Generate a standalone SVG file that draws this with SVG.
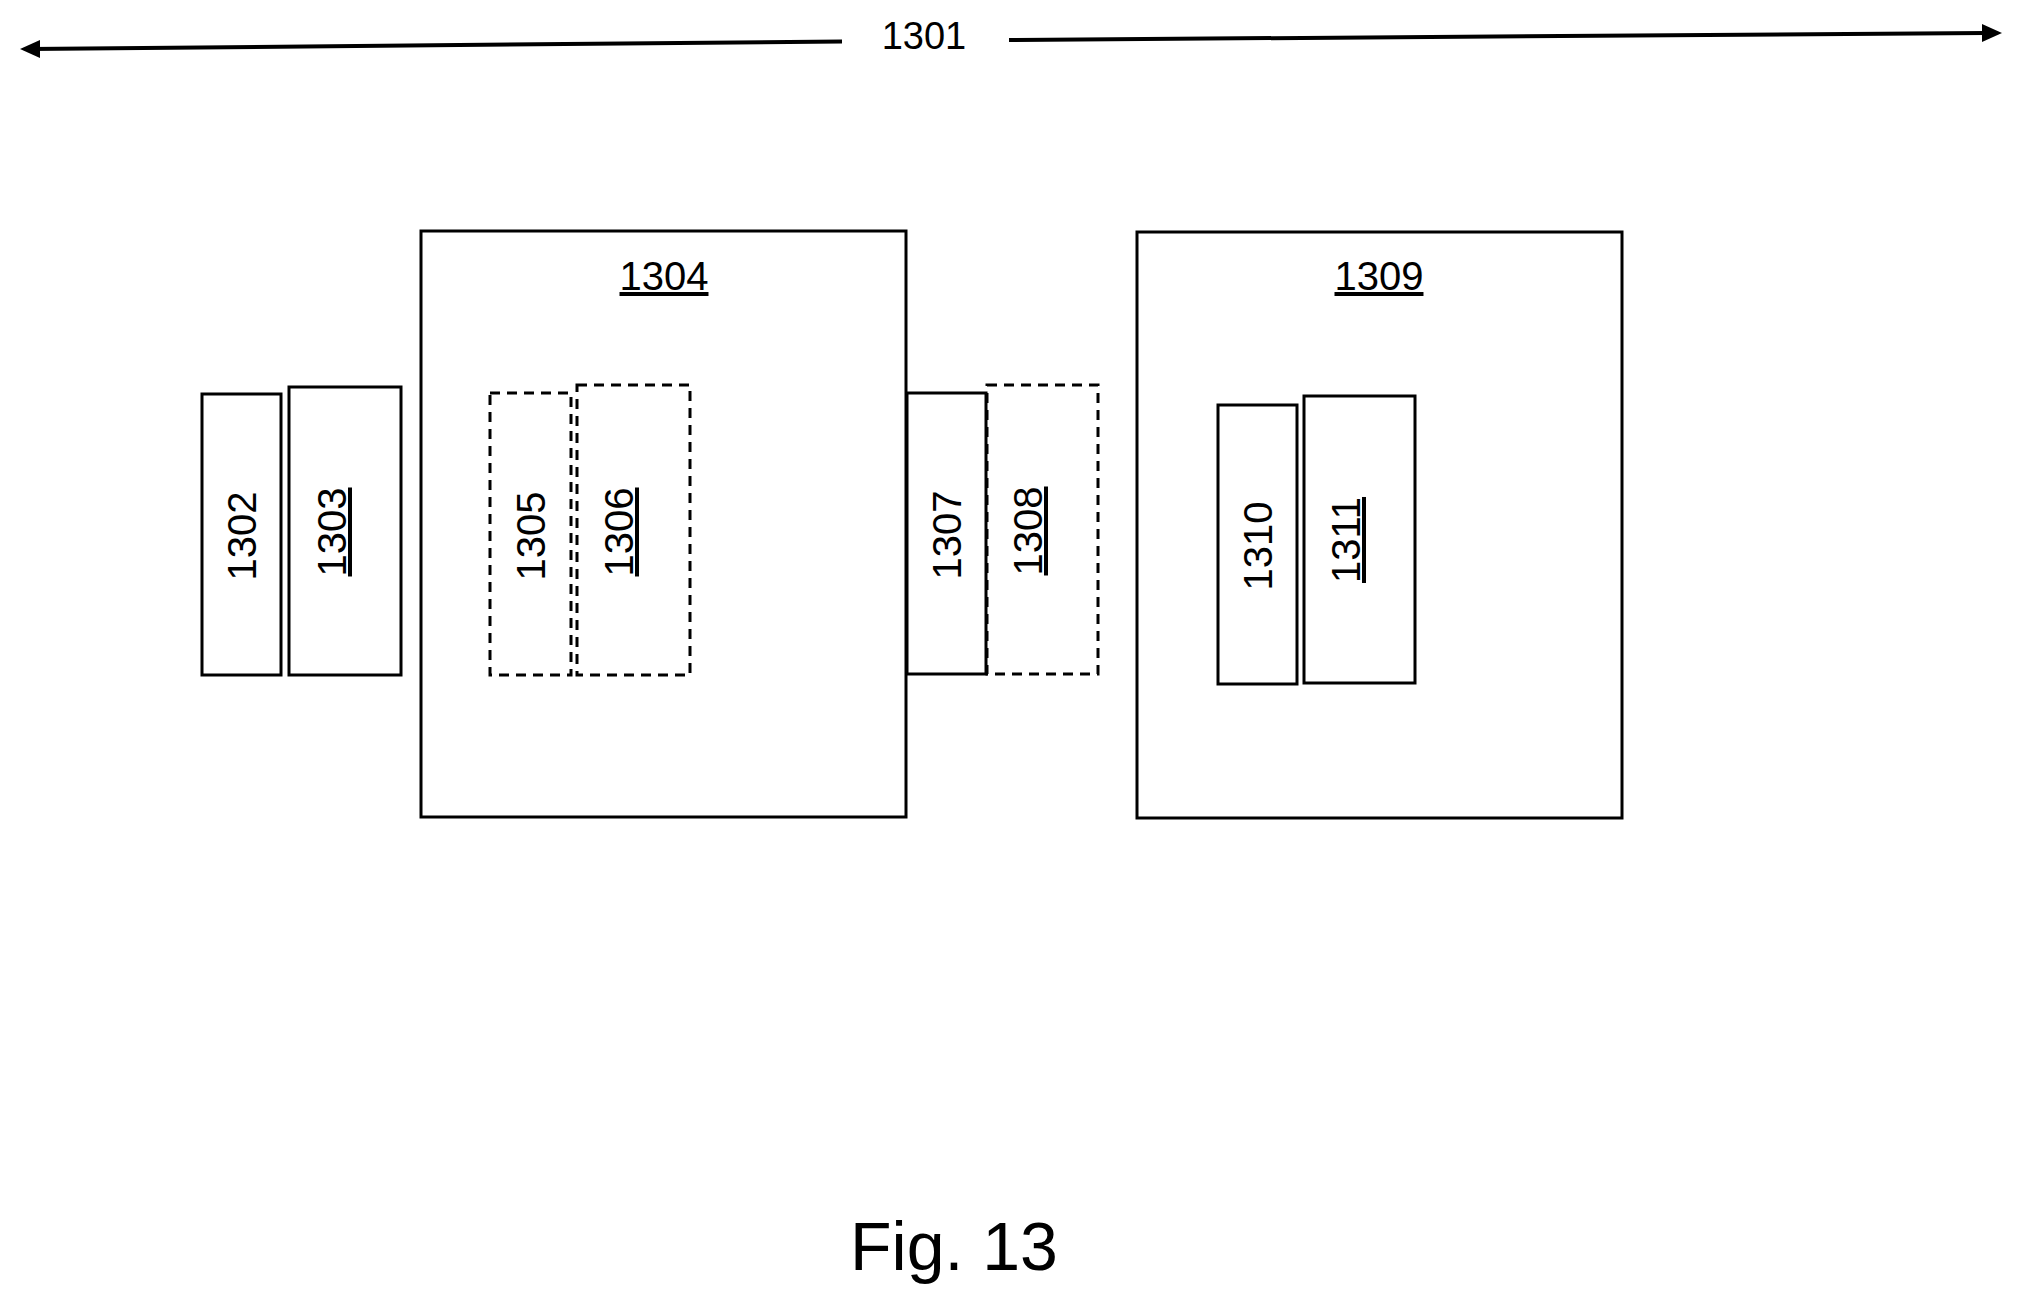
<svg xmlns="http://www.w3.org/2000/svg" width="2021" height="1303" viewBox="0 0 2021 1303">
<style>
.b{fill:none;stroke:#000;stroke-width:3}
.d{fill:none;stroke:#000;stroke-width:3;stroke-dasharray:10 7}
.t{font-family:"Liberation Sans",Arial,sans-serif;font-size:40px;text-anchor:middle;fill:#000}
.u{text-decoration:underline}
</style>
<rect width="2021" height="1303" fill="#fff"/>
<g id="connectors">
<line x1="842" y1="41.5" x2="30" y2="49" stroke="#000" stroke-width="4"/>
<path d="M20,49 L40,40 L40,58 z"/>
<line x1="1009" y1="40" x2="1985" y2="33" stroke="#000" stroke-width="4"/>
<path d="M2002,33 L1982,24 L1982,42 z"/>
<text class="t" x="924" y="49" style="font-size:38px">1301</text>
</g>
<g id="n1304"><rect class="b" x="421" y="231" width="485" height="586"/><text class="t u" x="664" y="290">1304</text></g>
<g id="n1309"><rect class="b" x="1137" y="232" width="485" height="586"/><text class="t u" x="1379" y="290">1309</text></g>
<g id="n1302"><rect class="b" x="202" y="394" width="79" height="281"/><text class="t" transform="translate(256,536) rotate(-90)">1302</text></g>
<g id="n1303"><rect class="b" x="289" y="387" width="112" height="288"/><text class="t u" transform="translate(346,532) rotate(-90)">1303</text></g>
<g id="n1305"><rect class="d" x="490" y="393" width="81" height="282"/><text class="t" transform="translate(545,536) rotate(-90)">1305</text></g>
<g id="n1306"><rect class="d" x="577" y="385" width="113" height="290"/><text class="t u" transform="translate(633,532) rotate(-90)">1306</text></g>
<g id="n1307"><rect class="b" x="907" y="393" width="79" height="281" stroke-width="4"/><text class="t" transform="translate(961,535) rotate(-90)">1307</text></g>
<g id="n1308"><rect class="d" x="987" y="385" width="111" height="289"/><text class="t u" transform="translate(1042,531) rotate(-90)">1308</text></g>
<g id="n1310"><rect class="b" x="1218" y="405" width="79" height="279"/><text class="t" transform="translate(1272,546) rotate(-90)">1310</text></g>
<g id="n1311"><rect class="b" x="1304" y="396" width="111" height="287"/><text class="t u" transform="translate(1360,540) rotate(-90)">1311</text></g>
<text class="t" x="954" y="1270" style="font-size:68px">Fig. 13</text>
</svg>
